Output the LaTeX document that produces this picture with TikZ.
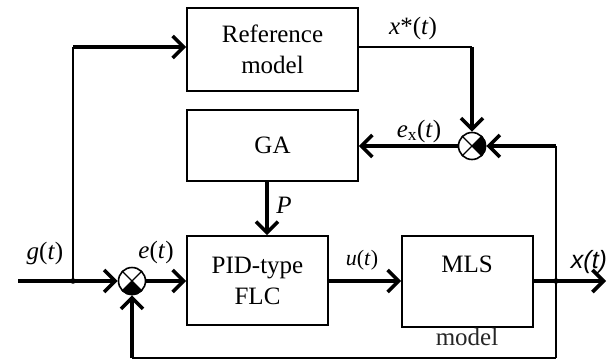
\documentclass[tikz,border=0pt]{standalone}
\usepackage{fontspec}
\setmainfont{Liberation Serif}
\newfontfamily\labelsans{Liberation Sans}
\usetikzlibrary{arrows.meta}

\begin{document}
\begin{tikzpicture}[x=1pt,y=-1pt,
  every node/.style={font=\fontsize{25}{31}\selectfont},
  blk/.style={draw,line width=1.6pt,inner sep=0pt,align=center},
  sumpt/.style={draw,circle,line width=1.6pt,minimum size=27pt,inner sep=0pt},
  heavy/.style={line width=3.6pt},
  medium/.style={line width=2.2pt},
  light/.style={line width=1.5pt},
  tip/.style={-{Straight Barb[length=11pt,width=22pt]}},
  lbl/.style={font=\fontsize{25}{27}\selectfont,inner sep=0pt}]
\useasboundingbox (0,0) rectangle (609,361);

% blocks
\node[blk,minimum width=171pt,minimum height=83pt] (ref) at (272.5,49.5) {Reference\\model};
\node[blk,minimum width=171pt,minimum height=71pt] (ga) at (272.5,145.5) {GA};
\node[blk,minimum width=141pt,minimum height=89pt] (pid) at (257.5,280.5) {PID-type\\FLC};
\node[blk,minimum width=131pt,minimum height=91pt] (mls) at (467.5,281.5) {};
\node (mlst) at (467,264) {MLS};
\node[text=black!85] (mlsm) at (467,337) {model};

% summing points
\node[sumpt] (s1) at (132,281) {};
\node[sumpt] (s2) at (472,146) {};
\foreach \s in {s1,s2}{
  \draw[line width=1.3pt] (\s.45) -- (\s.-135) (\s.135) -- (\s.-45);
}
\fill (s1.center) -- (s1.-135) -- (s1.-112) -- (s1.-90) -- (s1.-68) -- (s1.-45) -- cycle;
\fill (s2.center) -- (s2.-45) -- (s2.-22) -- (s2.0) -- (s2.22) -- (s2.45) -- cycle;

% routing points
\coordinate (in) at (18,281);
\coordinate (gj) at (73,281);
\coordinate (gtop) at (73,47);
\coordinate (xtop) at (472,47);
\coordinate (pj) at (267,0);
\coordinate (xj) at (556,281);
\coordinate (out) at (606,281);
\coordinate (fbr) at (556,358);
\coordinate (fbl) at (132,358);
\coordinate (ur) at (556,146);

% forward path
\draw[heavy,tip] (in) -- (s1.west);
\draw[heavy,tip] (s1.east) -- (pid.west |- s1.east);
\draw[heavy,tip] (pid.east |- s1.east) -- (mls.west |- s1.east);
\draw[heavy,tip] (mls.east |- s1.east) -- (out);

% reference branch
\draw[light] (gj) -- (gtop);
\draw[heavy,tip] (gtop) -- (ref.west |- gtop);
\draw[light] (ref.east |- gtop) -- (xtop);
\draw[heavy,tip] (xtop) -- (s2.north);

% tuning loop
\draw[heavy,tip] (s2.west) -- (ga.east |- s2.west);
\draw[heavy,tip] (ga.south -| pj) -- (pid.north -| pj);

% feedback
\draw[medium] (xj) -- (ur);
\draw[heavy,tip] (ur) -- (s2.east);
\draw[medium] (xj) -- (fbr);
\draw[light] (fbr) -- (fbl);
\draw[heavy,tip] (fbl) -- (s1.south);

\fill (gj) circle[radius=2.8pt];
\fill (xj) circle[radius=2.8pt];

% signal labels
\node[lbl] (lg) at (45,253) {\textit{g}(\textit{t})};
\node[lbl] (le) at (156,252) {\textit{e}(\textit{t})};
\node[lbl,font=\fontsize{22}{24}\selectfont] (lu) at (362,260) {\textit{u}(\textit{t})};
\node[lbl] (lx) at (589,262) {\labelsans\itshape x(t)};
\node[lbl] (lxs) at (413,28) {\textit{x}*(\textit{t})};
\node[lbl] (lex) at (419,131) {\textit{e}\textsubscript{x}(\textit{t})};
\node[lbl] (lp) at (284,205) {\textit{P}};
\end{tikzpicture}
\end{document}
